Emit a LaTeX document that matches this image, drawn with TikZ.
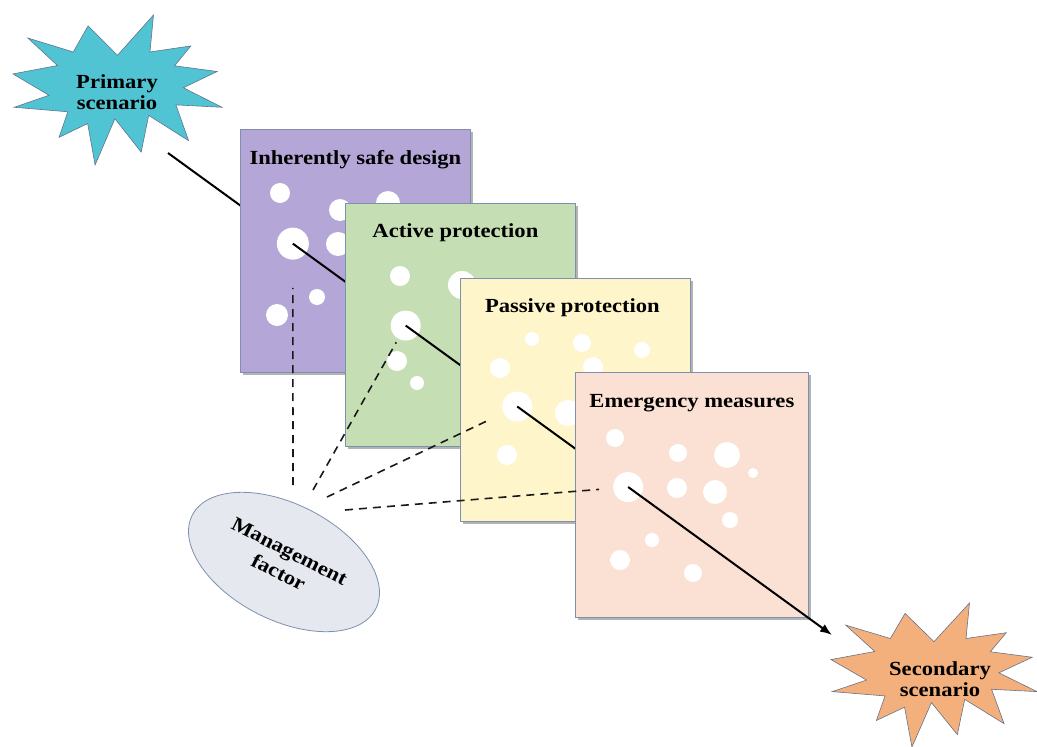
\documentclass[tikz,border=0pt]{standalone}
\usepackage{fontspec}
\newfontfamily\capfont[FakeStretch=1.13]{Liberation Serif}
\usepackage{tikz}
\usetikzlibrary{positioning,calc,shapes.geometric,shadows,arrows.meta}

\definecolor{frame}{RGB}{125,145,175}
\definecolor{layerA}{RGB}{180,166,214}
\definecolor{layerB}{RGB}{197,222,180}
\definecolor{layerC}{RGB}{255,245,202}
\definecolor{layerD}{RGB}{250,225,211}
\definecolor{startcol}{RGB}{80,196,211}
\definecolor{endcol}{RGB}{244,176,124}
\definecolor{mgmtcol}{RGB}{229,232,239}

\newcommand{\sealpath}{(108,58) -- (145.22,0) -- (141.55,53.25) -- (183.8,44.57) -- (167.02,73.15) -- (210.97,81.37) -- (176.07,104.75) -- (216,132.9) -- (168.37,129.42) -- (181.45,180.95) -- (140.2,144.57) -- (132.47,197.37) -- (105.32,149.35) -- (84.85,216) -- (77.15,156.27) -- (47.62,176.17) -- (56.67,139.37) -- (1.35,132.9) -- (37.22,115.6) -- (0,84.85) -- (45.95,72.73) -- (15.42,33.2) -- (62.27,53.25) -- (77.65,15.62) -- cycle}

\begin{document}
\begin{tikzpicture}[x=1pt,y=-1pt,
layer/.style={draw=frame,line width=0.8pt,minimum width=230pt,minimum height=243pt,anchor=north west,
    drop shadow={shadow xshift=2.5pt,shadow yshift=-2.5pt,fill=black!50,opacity=.6}},
title/.style={font=\capfont\bfseries\fontsize{20}{24}\selectfont},
hole/.style={circle,fill=white,inner sep=0pt,minimum size=#1},
seal/.style={draw=frame!80!black,line width=0.6pt,fill=#1},
path/.style={line width=2pt},
dashline/.style={dash pattern=on 8pt off 6pt,line width=1.6pt,black!90}]
\useasboundingbox (0,0) rectangle (1037,747);

% scenarios
\begin{scope}[shift={(13,15)},x=0.9676pt,y=-0.6944pt]
\filldraw[seal=startcol] \sealpath;
\end{scope}
\begin{scope}[shift={(831,603)},x=0.9537pt,y=-0.6667pt]
\filldraw[seal=endcol] \sealpath;
\end{scope}
\node (prim) [title,align=center] at (117,92) {Primary\\[-3pt]scenario};
\node (sec) [title,align=center] at (940,679) {Secondary\\[-3pt]scenario};

\coordinate (pstart) at (168,153);
\coordinate (send) at (832,635);
\coordinate (c1) at ($(pstart)!0.188!(send)$);
\coordinate (c2) at ($(pstart)!0.358!(send)$);
\coordinate (c3) at ($(pstart)!0.526!(send)$);
\coordinate (c4) at ($(pstart)!0.693!(send)$);

\draw[path] (pstart) -- (c1);

\node (b1) [layer,fill=layerA] at (240,129) {};
\node (t1) [title] at ([yshift=-31pt]b1.north) {Inherently safe design};
\foreach \x/\y/\r in {280/193/10,340/210/11,338/244/12,388/203/12,317/297/8,277/315/11}
  \fill[white] (\x,\y) circle[radius=\r pt];
\node (h1) [hole=32pt] at (c1) {};
\draw[path] (c1) -- (c2);

\node (b2) [layer,fill=layerB] at (345,203) {};
\node (t2) [title] at ([xshift=-5pt,yshift=-30pt]b2.north) {Active protection};
\foreach \x/\y/\r in {400/276/10,462/285/14,397/361/10,417/383/7}
  \fill[white] (\x,\y) circle[radius=\r pt];
\node (h2) [hole=30pt] at (c2) {};
\draw[path] (c2) -- (c3);

\node (b3) [layer,fill=layerC] at (460,278) {};
\node (t3) [title] at ([xshift=-3pt,yshift=-30pt]b3.north) {Passive protection};
\foreach \x/\y/\r in {532/339/7,582/343/9,642/350/8,500/368/10,593/367/10,568/413/13,507/455/10}
  \fill[white] (\x,\y) circle[radius=\r pt];
\node (h3) [hole=30pt] at (c3) {};
\draw[path] (c3) -- (c4);

\node (b4) [layer,fill=layerD,minimum width=233pt,minimum height=245pt] at (575,372) {};
\node (t4) [title] at ([yshift=-31pt]b4.north) {Emergency measures};
\foreach \x/\y/\r in {615/438/9,678/453/9,727/455/13,753/473/5,677/488/10,715/492/12,730/520/8,652/540/7,620/560/10,693/573/9}
  \fill[white] (\x,\y) circle[radius=\r pt];
\node (h4) [hole=30pt] at (c4) {};
\draw[path,-{Latex[length=12pt,width=9pt]}] (c4) -- (send);

% management
\node (mf) [ellipse,draw=frame,line width=0.8pt,fill=mgmtcol,minimum width=206pt,minimum height=116pt,
    rotate=-27,align=center,title] at (284,562) {Management\\[0pt]factor};
\coordinate (m1) at (293,485);
\coordinate (m2) at (313,490);
\coordinate (m3) at (327,497);
\coordinate (m4) at (345,510);
\draw[dashline,shorten >=28pt] (m1) -- (h1);
\draw[dashline,shorten >=4pt] (m2) -- (h2);
\draw[dashline,shorten >=15pt] (m3) -- (h3);
\draw[dashline,shorten >=14pt] (m4) -- (h4);
\end{tikzpicture}
\end{document}
